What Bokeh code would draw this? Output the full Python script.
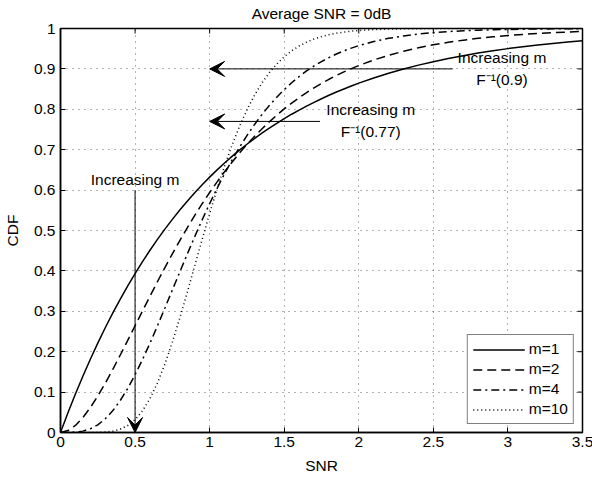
from bokeh.plotting import figure
from bokeh.models import (Range1d, Arrow, VeeHead, ColumnDataSource,
                          FixedTicker, NumeralTickFormatter)
from bokeh.core.properties import value
from bokeh.embed import file_html
from bokeh.resources import INLINE
import math

# ---------------- data ----------------
snr = [0, 0.05, 0.1, 0.15, 0.2, 0.25, 0.3, 0.35, 0.4, 0.45, 0.5, 0.55, 0.6, 0.65, 0.7,
       0.75, 0.8, 0.85, 0.9, 0.95, 1.0, 1.05, 1.1, 1.15, 1.2, 1.25, 1.3, 1.35, 1.4, 1.45,
       1.5, 1.55, 1.6, 1.65, 1.7, 1.75, 1.8, 1.85, 1.9, 1.95, 2.0, 2.1, 2.2, 2.3, 2.4,
       2.5, 2.6, 2.7, 2.8, 2.9, 3.0, 3.1, 3.2, 3.3, 3.4, 3.5]

cdf_m1 = [0, 0.0488, 0.0952, 0.1393, 0.1813, 0.2212, 0.2592, 0.2953, 0.3297, 0.3624,
          0.3935, 0.4231, 0.4512, 0.4780, 0.5034, 0.5276, 0.5507, 0.5726, 0.5934, 0.6133,
          0.6321, 0.6501, 0.6671, 0.6834, 0.6988, 0.7135, 0.7275, 0.7408, 0.7534, 0.7654,
          0.7769, 0.7878, 0.7981, 0.8080, 0.8173, 0.8262, 0.8347, 0.8428, 0.8504, 0.8577,
          0.8647, 0.8775, 0.8892, 0.8997, 0.9093, 0.9179, 0.9257, 0.9328, 0.9392, 0.9450,
          0.9502, 0.9550, 0.9592, 0.9631, 0.9666, 0.9698]

cdf_m2 = [0, 0.0047, 0.0175, 0.0369, 0.0616, 0.0902, 0.1219, 0.1558, 0.1912, 0.2275,
          0.2642, 0.3010, 0.3374, 0.3732, 0.4082, 0.4422, 0.4751, 0.5068, 0.5372, 0.5663,
          0.5940, 0.6204, 0.6454, 0.6691, 0.6916, 0.7127, 0.7326, 0.7513, 0.7689, 0.7854,
          0.8009, 0.8153, 0.8288, 0.8414, 0.8532, 0.8641, 0.8743, 0.8838, 0.8926, 0.9008,
          0.9084, 0.9220, 0.9337, 0.9437, 0.9523, 0.9596, 0.9658, 0.9711, 0.9756, 0.9794,
          0.9826, 0.9854, 0.9877, 0.9897, 0.9913, 0.9927]

cdf_m4 = [0, 0.0001, 0.0008, 0.0034, 0.0091, 0.0190, 0.0338, 0.0537, 0.0788, 0.1087,
          0.1429, 0.1806, 0.2213, 0.2640, 0.3081, 0.3528, 0.3975, 0.4416, 0.4848, 0.5265,
          0.5665, 0.6046, 0.6406, 0.6743, 0.7058, 0.7350, 0.7619, 0.7867, 0.8094, 0.8300,
          0.8488, 0.8658, 0.8811, 0.8949, 0.9072, 0.9182, 0.9280, 0.9369, 0.9447, 0.9515,
          0.9576, 0.9677, 0.9756, 0.9816, 0.9862, 0.9897, 0.9923, 0.9943, 0.9958, 0.9969,
          0.9977, 0.9983, 0.9988, 0.9991, 0.9993, 0.9995]

cdf_m10 = [0, 0, 0, 0, 0, 0.0003, 0.0011, 0.0033, 0.0081, 0.0171,
           0.0318, 0.0538, 0.0839, 0.1226, 0.1695, 0.2236, 0.2834, 0.3470, 0.4126, 0.4782,
           0.5421, 0.6029, 0.6595, 0.7111, 0.7576, 0.7986, 0.8342, 0.8648, 0.8906, 0.9122,
           0.9301, 0.9448, 0.9567, 0.9663, 0.9739, 0.9799, 0.9846, 0.9882, 0.9911, 0.9933,
           0.9950, 0.9973, 0.9985, 0.9992, 0.9996, 0.9998, 0.9999, 0.9999, 1.0, 1.0,
           1.0, 1.0, 1.0, 1.0, 1.0, 1.0]

series_labels = ["m=1", "m=2", "m=4", "m=10"]

x_ticks = [0, 0.5, 1, 1.5, 2, 2.5, 3, 3.5]
y_ticks = [0, 0.1, 0.2, 0.3, 0.4, 0.5, 0.6, 0.7, 0.8, 0.9, 1]

title_text = "Average SNR = 0dB"
x_label = "SNR"
y_label = "CDF"

# annotations
arrow_x0 = [2.63, 1.74, 0.5]
arrow_y0 = [0.9, 0.77, 0.6]
arrow_x1 = [1.0, 1.0, 0.5]
arrow_y1 = [0.9, 0.77, 0.0]

ann_x = [2.96, 2.96, 2.08, 2.08, 0.5]
ann_y = [0.927, 0.873, 0.80, 0.746, 0.626]
ann_text = ["Increasing m", "F\u207b\u00b9(0.9)", "Increasing m", "F\u207b\u00b9(0.77)", "Increasing m"]

# ---------------- figure ----------------
FONT = "Liberation Sans"
FS = "15.5px"

x_min, x_max = x_ticks[0], x_ticks[-1]
y_min, y_max = y_ticks[0], y_ticks[-1]

p = figure(frame_width=522, frame_height=404,
           x_range=Range1d(x_min, x_max), y_range=Range1d(y_min, y_max),
           output_backend="svg", toolbar_location=None,
           min_border_left=59, min_border_right=11, min_border_top=0, min_border_bottom=50,
           background_fill_color="white", border_fill_color="white")

p.title.text = title_text
p.title.align = "center"
p.title.text_font = FONT
p.title.text_font_size = FS
p.title.text_font_style = "normal"
p.title.text_color = "black"
p.title.standoff = 9
p.title.vertical_align = "top"

p.outline_line_color = "black"
p.outline_line_width = 1.5

p.xaxis.ticker = FixedTicker(ticks=x_ticks)
p.yaxis.ticker = FixedTicker(ticks=y_ticks)
p.xaxis.formatter = NumeralTickFormatter(format="0.[0]")
p.yaxis.formatter = NumeralTickFormatter(format="0.[0]")
p.xgrid.ticker = FixedTicker(ticks=x_ticks)
p.ygrid.ticker = FixedTicker(ticks=y_ticks)

for ax in (p.xaxis[0], p.yaxis[0]):
    ax.major_tick_in = 5
    ax.major_tick_out = 0
    ax.minor_tick_in = 0
    ax.minor_tick_out = 0
    ax.axis_line_color = "black"
    ax.axis_line_width = 1.5
    ax.major_tick_line_color = "black"
    ax.major_label_text_font = FONT
    ax.major_label_text_font_size = FS
    ax.major_label_text_color = "black"
    ax.axis_label_text_font = FONT
    ax.axis_label_text_font_size = FS
    ax.axis_label_text_font_style = "normal"
    ax.axis_label_text_color = "black"

p.xaxis.axis_label = x_label
p.yaxis.axis_label = y_label
p.xaxis.major_label_standoff = 4
p.xaxis.axis_label_standoff = 7
p.yaxis.major_label_standoff = 5
p.yaxis.axis_label_standoff = 10

for g in (p.xgrid[0], p.ygrid[0]):
    g.grid_line_color = "black"
    g.grid_line_alpha = 0.6
    g.grid_line_dash = "1 5"
    g.grid_line_width = 1

# inward tick marks on the right and top edges (dash markers clipped by the frame)
p.scatter([x_max] * len(y_ticks), y_ticks, marker="dash", size=10,
          line_color="black", line_width=1)
p.scatter(x_ticks, [y_max] * len(x_ticks), marker="dash", size=10, angle=math.pi / 2,
          line_color="black", line_width=1)

src = ColumnDataSource(dict(x=snr, m1=cdf_m1, m2=cdf_m2, m4=cdf_m4, m10=cdf_m10))
styles = [("m1", "solid"), ("m2", "9 5"), ("m4", "8 4 2 4"), ("m10", "1 3")]
for (col, dash), lab in zip(styles, series_labels):
    p.line("x", col, source=src, line_color="black", line_width=1.5,
           line_dash=dash, legend_label=lab)

# arrows
asrc = ColumnDataSource(dict(x0=arrow_x0, y0=arrow_y0, x1=arrow_x1, y1=arrow_y1))
p.add_layout(Arrow(x_start="x0", y_start="y0", x_end="x1", y_end="y1", source=asrc,
                   line_color="black", line_width=1,
                   end=VeeHead(size=15, fill_color="black", fill_alpha=1,
                               line_color="black")))

tsrc = ColumnDataSource(dict(x=ann_x, y=ann_y, t=ann_text))
p.text("x", "y", text="t", source=tsrc, text_font=value(FONT), text_font_size=FS,
       text_align="center", text_baseline="middle", text_color="black")

lg = p.legend[0]
lg.location = "bottom_right"
lg.margin = 8
lg.border_line_color = "black"
lg.border_line_width = 1
lg.background_fill_color = "white"
lg.background_fill_alpha = 1
lg.label_text_font = FONT
lg.label_text_font_size = FS
lg.label_text_color = "black"
lg.glyph_width = 52
lg.glyph_height = 17
lg.label_height = 17
lg.spacing = 2
lg.padding = 5
lg.label_standoff = 4

open("out.html", "w").write(file_html(p, INLINE))
